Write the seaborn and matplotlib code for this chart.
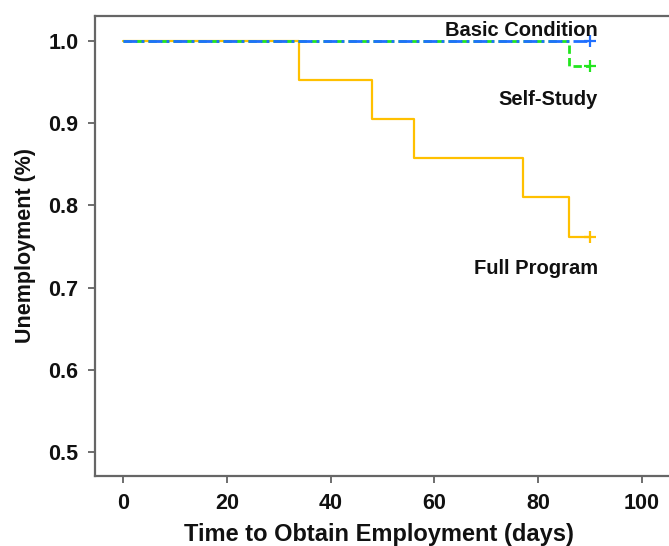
import pandas as pd
import seaborn as sns
import matplotlib.pyplot as plt
import numpy as np

# KAPLAN-MEIER STYLE CURVES

full_days = [0, 34, 48, 56, 77, 86, 90]
full_surv = [1.0, 0.952, 0.905, 0.857, 0.810, 0.762, 0.762]

self_days = [0, 86, 90]
self_surv = [1.0, 0.970, 0.970]

basic_days = [0, 90]
basic_surv = [1.0, 1.0]

groups = ["Full Program", "Self-Study", "Basic Condition"]
colours = ["#FFC000", "#22E61E", "#1F6FFF"]
styles = ["-", (0, (3, 1.5)), (0, (5, 1.5, 1, 1.5))]
label_pos = {"Full Program": (90, 0.723), "Self-Study": (90, 0.929), "Basic Condition": (90, 1.013)}

frames = []
for g, d, s in zip(groups, [full_days, self_days, basic_days], [full_surv, self_surv, basic_surv]):
    frames.append(pd.DataFrame({"days": d, "surv": s, "group": g}))
data = pd.concat(frames, ignore_index=True)

sns.set_style("white")
plt.rcParams["font.family"] = ["Liberation Sans", "DejaVu Sans"]
plt.rcParams["font.weight"] = "bold"

fig = plt.figure(figsize=(6.69, 5.46), dpi=100)
ax = fig.add_axes([0.142, 0.128, 0.892, 0.843])

for g, c, ls in zip(groups, colours, styles):
    sub = data[data["group"] == g]
    sns.lineplot(x="days", y="surv", data=sub, ax=ax, color=c, drawstyle="steps-post",
                 linewidth=2 if g != "Full Program" else 1.6, linestyle=ls, estimator=None)
    ax.plot(sub["days"].iloc[-1], sub["surv"].iloc[-1], marker="+", color=c,
            markersize=8, markeredgewidth=1.6)
    lx, ly = label_pos[g]
    ax.text(lx + 1.5, ly, g, ha="right", va="center", fontsize=14.5, fontweight="bold", color="#111111")

ax.set_xlim(-5.4, 109.6)
ax.set_ylim(0.4708, 1.0304)
ax.set_xticks([0, 20, 40, 60, 80, 100])
ax.set_yticks([0.5, 0.6, 0.7, 0.8, 0.9, 1.0])
ax.yaxis.set_major_formatter(plt.FormatStrFormatter("%.1f"))
ax.tick_params(axis="both", direction="out", length=5, width=1.2, color="#555555",
               labelsize=15.5, labelcolor="#111111", pad=7, left=True, bottom=True)
for lab in ax.get_xticklabels() + ax.get_yticklabels():
    lab.set_fontweight("bold")
for side in ["left", "bottom", "top"]:
    ax.spines[side].set_color("#666666")
    ax.spines[side].set_linewidth(1.6)
ax.set_xlabel("Time to Obtain Employment (days)", fontsize=17, fontweight="bold",
              labelpad=6, color="#111111")
ax.xaxis.set_label_coords(0.476, -0.102)
ax.set_ylabel("Unemployment (%)", fontsize=15.5, fontweight="bold", labelpad=9, color="#111111")

fig.savefig("out.png", dpi=100)
